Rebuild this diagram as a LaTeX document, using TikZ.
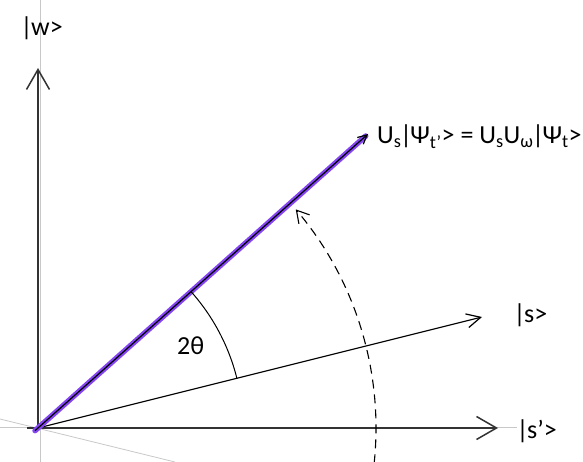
\documentclass[tikz,border=0pt]{standalone}
\usepackage{fontspec}
\setmainfont{Carlito}
\usetikzlibrary{arrows.meta}
\definecolor{violetline}{RGB}{132,68,242}
\definecolor{guidegray}{RGB}{200,200,200}
\newcommand{\kbar}{\kern-1.5pt|\kern-1.5pt}

\begin{document}
\begin{tikzpicture}[x=1pt,y=1pt,
  lbl/.style={anchor=base west,inner sep=0pt,font=\fontsize{26}{30}\selectfont},
  guide/.style={draw=guidegray,line width=0.8pt},
  axis/.style={draw=black!80,line width=1.5pt,-{Straight Barb[length=20pt,width=23pt]}},
  vec/.style={draw=black,line width=1.2pt,-{Straight Barb[length=14pt,width=14pt]}}]
  \useasboundingbox (0,0) rectangle (583,462);
  % faint construction lines
  \draw[guide] (40,0) -- (40,462);
  \draw[guide] (0,35) -- (517,35);
  \draw[guide] (0,43) -- (175,0);
  % points
  \coordinate (O) at (38,34);
  \coordinate (Ol) at (27,34);
  \coordinate (W) at (38,394);
  \coordinate (Sp) at (498,34);
  \coordinate (S) at (482,145);
  \coordinate (Psi) at (368,328);
  % axes and vectors
  \draw[axis] (O) -- (W);
  \draw[axis] (Ol) -- (Sp);
  \draw[vec] (O) -- (S);
  \draw[violetline,line width=5.5pt,line cap=round,shorten >=3pt,shorten <=-4pt] (O) -- (Psi);
  \draw[black,line width=1.2pt,shorten <=-4pt,-{Straight Barb[length=9pt,width=9pt]}] (O) -- (Psi);
  % angle 2theta
  \draw[line width=1pt] (O) ++(41.7:205) arc[start angle=41.7,end angle=13.9,radius=205];
  \draw[line width=1.1pt,dash pattern=on 9pt off 6pt,-{Straight Barb[length=12pt,width=14pt]}]
    (O) ++(-6:338) arc[start angle=-6,end angle=40.3,radius=338];
  % labels
  \node[lbl] (wlab) at (22,426) {\kbar w>};
  \node[lbl] (slab) at (515,139) {\kbar s>};
  \node[lbl] (splab) at (518,23) {\kbar s’>};
  \node[lbl] (psilab) at (377,318) {U\textsubscript{s}\kbar Ψ\textsubscript{t’}> = U\textsubscript{s}U\textsubscript{ω}\kbar Ψ\textsubscript{t}>};
  \node[lbl] (thlab) at (177,107) {2θ};
\end{tikzpicture}
\end{document}
